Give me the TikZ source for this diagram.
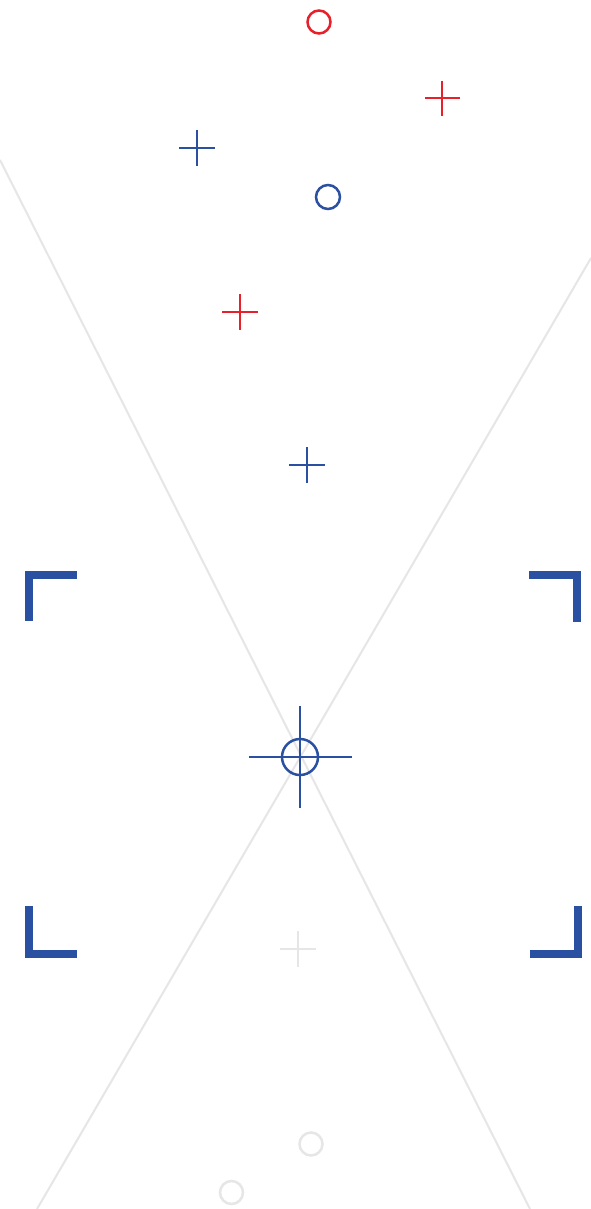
\documentclass[tikz,border=0pt]{standalone}
\definecolor{mred}{HTML}{E8202A}
\definecolor{mblue}{HTML}{2A50A2}
\definecolor{mgray}{HTML}{E6E6E6}
\tikzset{
  plusmark/.style={line width=2.5pt},
  ringmark/.style={line width=2.5pt},
  bracket/.style={line width=8pt, mblue, line cap=butt, line join=miter},
  guide/.style={line width=2pt, mgray}
}
\begin{document}
\begin{tikzpicture}[x=1pt,y=-1pt]
\useasboundingbox[fill=white] (0,0) rectangle (591,1209);
% guide lines
\coordinate (c) at (300,757);
\draw[guide] (0,160) -- (530,1209);
\draw[guide] (591,258) -- (37,1209);
% red marks
\draw[ringmark, mred] (319,22) circle[radius=11.5pt];
\draw[plusmark, mred] (425,98) -- (460,98) (442,81) -- (442,116);
\draw[plusmark, mred] (222,312) -- (258,312) (240,294) -- (240,330);
% blue marks
\draw[plusmark, mblue] (179,148) -- (215,148) (197,130) -- (197,166);
\draw[ringmark, mblue] (328,197) circle[radius=12pt];
\draw[plusmark, mblue] (289,465) -- (325,465) (307,447) -- (307,483);
% crosshair
\draw[plusmark, mblue] (249,757) -- (352,757) (300,706) -- (300,808);
\draw[ringmark, mblue] (c) circle[radius=18pt];
% brackets
\draw[bracket] (29,621) -- (29,575) -- (77,575);
\draw[bracket] (529,574.5) -- (577,574.5) -- (577,622);
\draw[bracket] (28.5,906) -- (28.5,954.3) -- (76.5,954.3);
\draw[bracket] (530,954) -- (577.7,954) -- (577.7,906);
% gray marks
\draw[plusmark, mgray] (280,949) -- (316,949) (298,931) -- (298,967);
\draw[ringmark, mgray] (311,1144) circle[radius=11.5pt];
\draw[ringmark, mgray] (231.5,1192.5) circle[radius=11.5pt];
\end{tikzpicture}
\end{document}
